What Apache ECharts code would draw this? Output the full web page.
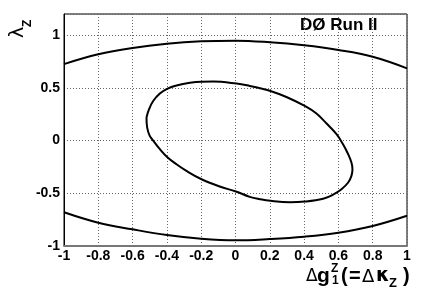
<!DOCTYPE html>
<html>
<head>
<meta charset="utf-8">
<script src="https://cdn.jsdelivr.net/npm/echarts@6/dist/echarts.min.js"></script>
<style>
  html, body { margin: 0; padding: 0; background: #fff; }
  #main { width: 429px; height: 291px; }
</style>
</head>
<body>
<div id="main"></div>
<script>
// outer contour, read at the vertical grid lines
const outerX = [-1, -0.8, -0.6, -0.4, -0.2, 0, 0.2, 0.4, 0.6, 0.8, 1];
const outerTop = [0.725, 0.818, 0.878, 0.918, 0.941, 0.947, 0.932, 0.903, 0.859, 0.795, 0.685];
const outerBottom = [-0.68, -0.779, -0.842, -0.896, -0.931, -0.946, -0.934, -0.912, -0.874, -0.81, -0.713];

// inner contour, points read around the ellipse (clockwise from the left edge)
const innerX = [-0.519, -0.504, -0.48, -0.441, -0.399, -0.344, -0.266, -0.198, -0.131, 0.006, 0.083, 0.142, 0.204,
  0.297, 0.404, 0.472, 0.531, 0.589, 0.627, 0.657, 0.676, 0.682, 0.676, 0.657, 0.618, 0.569, 0.511, 0.404, 0.317,
  0.204, 0.142, 0.083, 0.002, -0.092, -0.198, -0.286, -0.344, -0.399, -0.441, -0.48, -0.5, -0.515, -0.519];
const innerY = [0.218, 0.297, 0.375, 0.445, 0.49, 0.522, 0.548, 0.558, 0.559, 0.540, 0.518, 0.496, 0.470,
  0.413, 0.328, 0.256, 0.161, 0.060, -0.035, -0.130, -0.209, -0.272, -0.335, -0.398, -0.462, -0.513, -0.552, -0.579, -0.585,
  -0.572, -0.556, -0.534, -0.483, -0.436, -0.367, -0.288, -0.225, -0.155, -0.082, 0.0, 0.044, 0.123, 0.218];

const title = 'DØ Run II';

const pairs = (xs, ys) => xs.map((x, i) => [x, ys[i]]);

var myChart = echarts.init(document.getElementById('main'));

const gridLine = { show: true, lineStyle: { color: '#666', type: [1, 2], width: 1 } };
const labelFont = { color: '#000', fontFamily: 'Liberation Sans', fontWeight: 'bold', fontSize: 14 };
const curve = { color: '#000', width: 2 };

const option = {
  animation: false,
  grid: { left: 64, right: 22, top: 14, bottom: 45, show: true, borderColor: '#000', borderWidth: 1 },
  xAxis: {
    type: 'value', min: -1, max: 1, interval: 0.2,
    axisLine: { show: true, onZero: false, lineStyle: { color: '#777', width: 2 } },
    axisTick: { show: false },
    splitLine: gridLine,
    axisLabel: Object.assign({ margin: 3, formatter: v => String(Math.round(v * 10) / 10) }, labelFont)
  },
  yAxis: {
    type: 'value', min: -1, max: 1.2, interval: 0.5,
    axisLine: { show: true, onZero: false, lineStyle: { color: '#000', width: 1 } },
    axisTick: { show: false },
    splitLine: gridLine,
    axisLabel: Object.assign({
      margin: 4,
      formatter: v => (v > 1.01 ? '' : String(Math.round(v * 10) / 10))
    }, labelFont)
  },
  series: [
    { type: 'line', data: pairs(outerX, outerTop), smooth: 0.4, symbol: 'none', lineStyle: curve },
    { type: 'line', data: pairs(outerX, outerBottom), smooth: 0.4, symbol: 'none', lineStyle: curve },
    { type: 'line', data: pairs(innerX, innerY), smooth: 0.4, symbol: 'none', lineStyle: curve }
  ],
  graphic: [
    { type: 'text', left: 300, top: 17, style: { text: title, font: 'bold 17px "Liberation Sans"', fill: '#000' } },
    // y axis title: lambda_Z, rotated
    { type: 'text', x: 9, y: 38, rotation: Math.PI / 2, style: { text: 'λ', font: '19px "DejaVu Sans"', fill: '#000', align: 'left', verticalAlign: 'top' } },
    { type: 'text', x: 22, y: 27, rotation: Math.PI / 2, style: { text: 'Z', font: 'bold 12px "Liberation Sans"', fill: '#000', align: 'left', verticalAlign: 'top' } },
    // x axis title
    { type: 'text', x: 306, y: 268, style: { text: 'Δ', font: '17px "DejaVu Sans"', fill: '#000', verticalAlign: 'top' } },
    { type: 'text', x: 317, y: 266, style: { text: 'g', font: 'bold 21px "Liberation Sans"', fill: '#000', verticalAlign: 'top' } },
    { type: 'text', x: 331, y: 263, style: { text: 'Z', font: 'bold 12px "Liberation Sans"', fill: '#000', verticalAlign: 'top' } },
    { type: 'text', x: 332, y: 275, style: { text: '1', font: 'bold 12px "Liberation Sans"', fill: '#000', verticalAlign: 'top' } },
    { type: 'text', x: 341, y: 266, style: { text: '(', font: 'bold 20px "Liberation Sans"', fill: '#000', verticalAlign: 'top' } },
    { type: 'text', x: 349, y: 266, style: { text: '=', font: 'bold 20px "Liberation Sans"', fill: '#000', verticalAlign: 'top' } },
    { type: 'text', x: 362, y: 268, style: { text: 'Δ', font: '18px "DejaVu Sans"', fill: '#000', verticalAlign: 'top' } },
    { type: 'text', x: 376, y: 267, style: { text: 'κ', font: 'bold 19px "DejaVu Sans"', fill: '#000', verticalAlign: 'top' } },
    { type: 'text', x: 389, y: 277, style: { text: 'Z', font: 'bold 13px "Liberation Sans"', fill: '#000', verticalAlign: 'top' } },
    { type: 'text', x: 403, y: 266, style: { text: ')', font: 'bold 20px "Liberation Sans"', fill: '#000', verticalAlign: 'top' } }
  ]
};

myChart.setOption(option);
window.addEventListener('resize', function () { myChart.resize(); });
</script>
</body>
</html>
